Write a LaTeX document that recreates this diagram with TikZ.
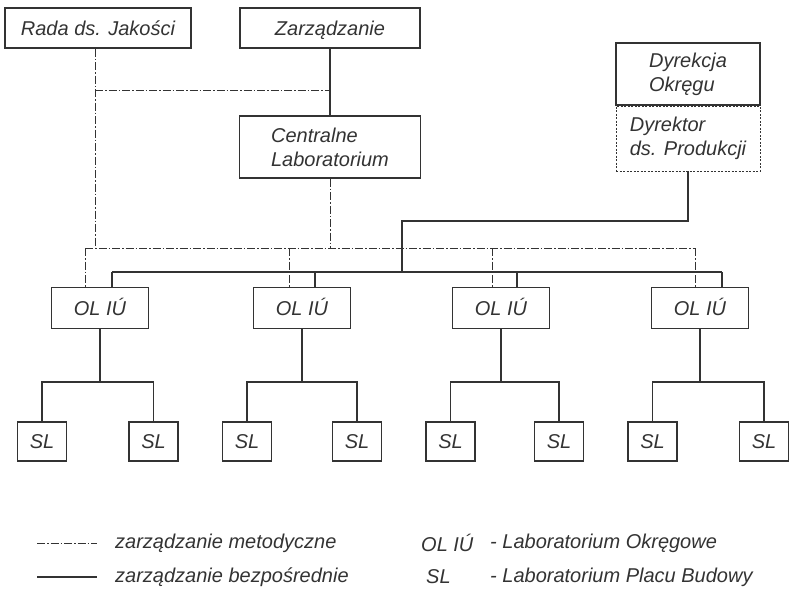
\documentclass[tikz,border=0pt]{standalone}
\usepackage{fontspec}
\setmainfont{Liberation Sans}
\usetikzlibrary{positioning}

\begin{document}
\begin{tikzpicture}[x=1pt,y=-1pt,
  box/.style={draw=black!80,line width=1.1pt,inner sep=0pt,align=left,
    font=\fontsize{20}{24}\selectfont\itshape,text=black!80},
  oneline/.style={text height=16pt,text depth=2pt},
  olbox/.style={box,oneline,minimum width=97pt,minimum height=41pt},
  slbox/.style={box,oneline,minimum width=49pt,minimum height=39pt},
  metod/.style={draw=black!80,line width=1pt,dash pattern=on 8pt off 2pt on 1.5pt off 2pt},
  direct/.style={draw=black!80,line width=1.1pt},
  legend/.style={anchor=west,inner sep=0pt,font=\fontsize{20}{24}\selectfont\itshape,text=black!80}]
\useasboundingbox (0,0) rectangle (789,590);

% gora
\node[box,oneline,minimum width=186pt,minimum height=40pt] (rada) at (98,28) {Rada ds. Jakości};
\node[box,oneline,minimum width=180pt,minimum height=40pt] (zarz) at (330,28) {Zarządzanie};
\node[box,minimum width=181pt,minimum height=62pt] (central) at (330,147) {Centralne\\Laboratorium};
\node[box,minimum width=144pt,minimum height=62pt] (dyrekcja) at (688,74) {Dyrekcja\\Okręgu};
\node[box,line width=0.9pt,dash pattern=on 2pt off 1.5pt,minimum width=144pt,minimum height=65pt,
  below=0pt of dyrekcja] (dyrektor) {Dyrektor\\ds. Produkcji};

% laboratoria okregowe
\node[olbox] (ol1) at (100,308) {OL IÚ};
\node[olbox] (ol2) at (302,308) {OL IÚ};
\node[olbox] (ol3) at (501,308) {OL IÚ};
\node[olbox] (ol4) at (700,308) {OL IÚ};

% laboratoria placu budowy
\node[slbox] (sla1) at (42,441.5) {SL};  \node[slbox] (slb1) at (153.5,441.5) {SL};
\node[slbox] (sla2) at (247,441.5) {SL}; \node[slbox] (slb2) at (357,441.5) {SL};
\node[slbox] (sla3) at (450.5,441.5) {SL}; \node[slbox] (slb3) at (559,441.5) {SL};
\node[slbox] (sla4) at (652.5,441.5) {SL}; \node[slbox] (slb4) at (764,441.5) {SL};

\coordinate (mbus) at (0,248);
\coordinate (dbus) at (0,272);
\coordinate (sbus) at (0,382);
\coordinate (mjak) at (330,90);
\coordinate (dturn) at (402,221);

\foreach \i/\m/\d in {1/-15/12, 2/-13/13, 3/-9/16, 4/-5/22} {
  \coordinate (m\i) at ([xshift=\m pt]ol\i.north);
  \coordinate (d\i) at ([xshift=\d pt]ol\i.north);
}

% zarzadzanie metodyczne
\draw[metod] ([xshift=-3pt]rada.south) -- ([xshift=-3pt]rada.south |- mbus);
\draw[metod] ([xshift=-3pt]rada.south |- mjak) -- (mjak);
\draw[metod] (central) -- (central |- mbus);
\draw[metod] (m1 |- mbus) -- (m4 |- mbus);
\foreach \i in {1,...,4} \draw[metod] (m\i |- mbus) -- (m\i);

% zarzadzanie bezposrednie
\draw[direct] (zarz) -- (central);
\draw[direct] (dyrektor) |- (dturn) -- (dturn |- dbus);
\draw[direct] (d1 |- dbus) -- (d4 |- dbus);
\foreach \i in {1,...,4} {
  \draw[direct] (d\i |- dbus) -- (d\i);
  \draw[direct] (ol\i) -- (ol\i |- sbus);
  \draw[direct] (sla\i) |- (ol\i |- sbus) -| (slb\i);
}

% legenda
\coordinate (lga) at (37,543); \coordinate (lgb) at (97,543);
\coordinate (lgc) at (37,577); \coordinate (lgd) at (97,577);
\draw[metod] (lga) -- (lgb);
\draw[direct] (lgc) -- (lgd);
\node[legend] (lt1) at (115,543) {zarządzanie metodyczne};
\node[legend] (lt2) at (115,577) {zarządzanie bezpośrednie};
\node[legend] (lo1) at (421,543) {OL IÚ};
\node[legend] (ls1) at (426,577) {SL};
\node[legend] (lo2) at (490,543) {- Laboratorium Okręgowe};
\node[legend] (ls2) at (490,577) {- Laboratorium Placu Budowy};

\end{tikzpicture}
\end{document}
